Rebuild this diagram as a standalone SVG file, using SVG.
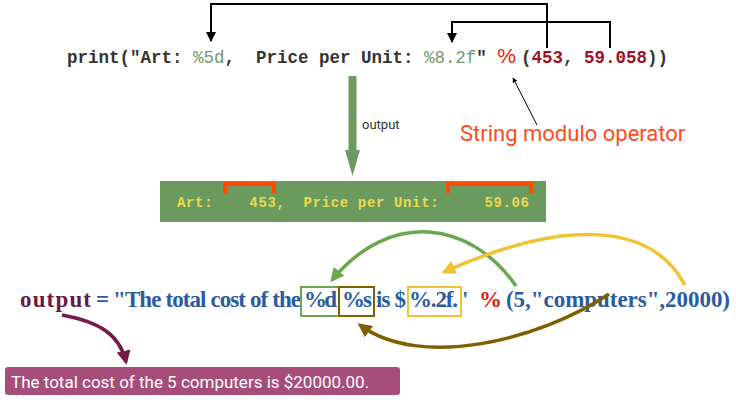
<svg xmlns="http://www.w3.org/2000/svg" width="736" height="400" viewBox="0 0 736 400">
<style>
.code{font-family:"Liberation Mono",monospace;font-weight:bold;font-size:17.5px}
.out{font-family:"Liberation Mono",monospace;font-weight:bold;font-size:14px;fill:#e6d94e}
.ser{font-family:"Liberation Serif",serif;font-weight:bold;font-size:23px;fill:#2b5ca2}
.blk{fill:none;stroke:#000;stroke-width:2}
</style>
<defs>
<marker id="ab" viewBox="0 0 10 10" refX="9" refY="5" markerWidth="5" markerHeight="6" orient="auto"><path d="M0,0L10,5L0,10z" fill="#000"/></marker>
<marker id="ag" viewBox="0 0 10 10" refX="8" refY="5" markerWidth="4" markerHeight="4" orient="auto"><path d="M0,0L10,5L0,10z" fill="#6aa84f"/></marker>
<marker id="ay" viewBox="0 0 10 10" refX="8" refY="5" markerWidth="4" markerHeight="4" orient="auto"><path d="M0,0L10,5L0,10z" fill="#f1c232"/></marker>
<marker id="an" viewBox="0 0 10 10" refX="8" refY="5" markerWidth="4" markerHeight="4" orient="auto"><path d="M0,0L10,5L0,10z" fill="#7f6000"/></marker>
<marker id="ap" viewBox="0 0 10 10" refX="8" refY="5" markerWidth="4" markerHeight="4" orient="auto"><path d="M0,0L10,5L0,10z" fill="#741b47"/></marker>
</defs>
<rect width="736" height="400" fill="#fff"/>
<g id="code">
<text class="code" x="67" y="63" fill="#333" textLength="601" lengthAdjust="spacing" xml:space="preserve">print("Art: <tspan fill="#6f9a6c" font-weight="normal">%5d</tspan>,  Price per Unit: <tspan fill="#6f9a6c" font-weight="normal">%8.2f</tspan>" <tspan fill="#e02010" font-family="Liberation Sans,sans-serif" font-weight="normal" font-size="21">%</tspan><tspan dx="5">(</tspan><tspan fill="#a01020">453</tspan>, <tspan fill="#a01020">59.058</tspan>))</text>
</g>
<g id="label-mod">
<text x="460" y="141" font-family="Roboto,sans-serif" font-size="22" fill="#ff4a1c">String modulo operator</text>
</g>
<g id="output-box">
<rect x="160" y="181" width="386" height="41" fill="#6b9a5f"/>
<text class="out" x="177" y="207" xml:space="preserve" textLength="352">Art:    453,  Price per Unit:     59.06</text>
<path d="M225,193V184H274V193M448,193V184H531V193" fill="none" stroke="#ff4a00" stroke-width="4"/>
</g>
<g id="line2">
<text class="ser" x="20" y="307" style="fill:#6b1a45" textLength="71">output</text>
<text class="ser" x="96" y="307" textLength="205">= "The total cost of the</text>
<text class="ser" x="304" y="307" textLength="33">%d</text>
<text class="ser" x="342" y="307" textLength="30">%s</text>
<text class="ser" x="376" y="307" textLength="30">is $</text>
<text class="ser" x="409" y="307" textLength="49">%.2f.</text>
<text class="ser" x="462" y="307">'</text>
<text class="ser" x="479" y="307" style="fill:#e02010">%</text>
<text class="ser" x="506" y="307" textLength="224">(5,"computers",20000)</text>
<rect x="301" y="287" width="38" height="29" fill="none" stroke="#6aa84f" stroke-width="2"/>
<rect x="339" y="287" width="35" height="29" fill="none" stroke="#7f6000" stroke-width="2"/>
<rect x="408" y="287" width="53" height="29" fill="none" stroke="#f1c232" stroke-width="2"/>
</g>
<g id="result">
<rect x="5" y="367" width="395" height="28" rx="3" fill="#a64d79"/>
<text x="11" y="388" font-family="Roboto,sans-serif" font-size="17" fill="#fff">The total cost of the 5 computers is $20000.00.</text>
</g>
<g id="connectors">
<path class="blk" d="M547,48V4H211V41" marker-end="url(#ab)"/>
<path class="blk" d="M610,48V22H452V42" marker-end="url(#ab)"/>
<path d="M537,125L513,78" fill="none" stroke="#000" stroke-width="1" marker-end="url(#ab)"/>
<path d="M352.5,76V150" stroke="#6e9a62" stroke-width="8"/>
<path d="M345,150H360L352.5,176z" fill="#6e9a62"/>
<text x="362" y="129" font-family="Roboto,sans-serif" font-size="13" fill="#333">output</text>
<path d="M516,286C470,220 390,210 332,280" fill="none" stroke="#6aa84f" stroke-width="3.5" marker-end="url(#ag)"/>
<path d="M685,285C650,220 560,220 444,272" fill="none" stroke="#f1c232" stroke-width="3.5" marker-end="url(#ay)"/>
<path d="M609,294C540,340 420,370 360,325" fill="none" stroke="#7f6000" stroke-width="3.5" marker-end="url(#an)"/>
<path d="M62,315C100,322 120,335 126,362" fill="none" stroke="#741b47" stroke-width="3.5" marker-end="url(#ap)"/>
</g>
</svg>
